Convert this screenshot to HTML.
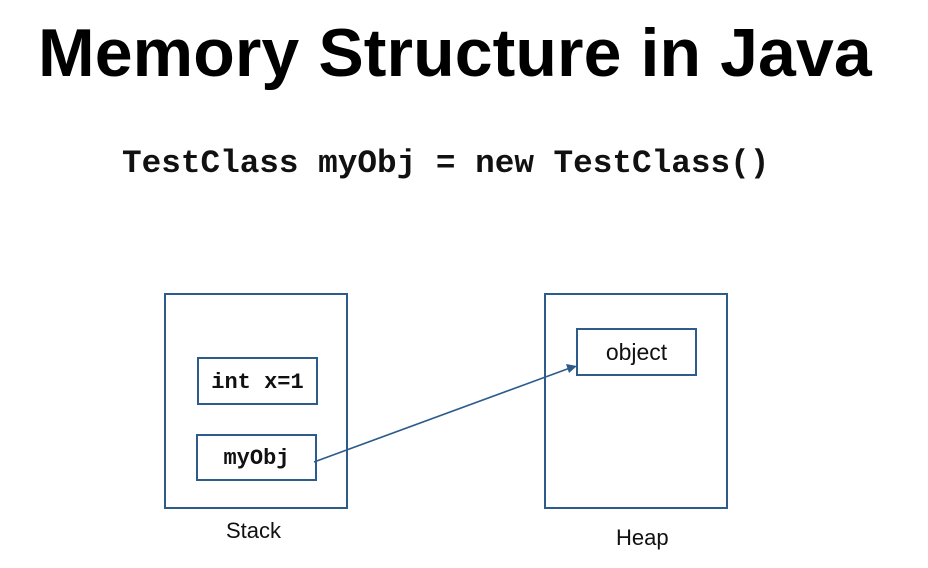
<!DOCTYPE html>
<html><head><style>
body{margin:0;width:928px;height:568px;background:#fff;position:relative;overflow:hidden}
.t{position:absolute;left:38px;top:14px;font:bold 68px "Liberation Sans",sans-serif;color:#000;letter-spacing:0.1px;white-space:nowrap}
.c{position:absolute;left:122px;top:145px;font:bold 32.7px "Liberation Mono",monospace;color:#111;white-space:nowrap}
.b{position:absolute;border:2px solid #2c5b8c;box-sizing:border-box}
.m{font:bold 22px "Liberation Mono",monospace;display:flex;align-items:center;justify-content:center;color:#111;padding-top:2px}
.s{font:23px "Liberation Sans",sans-serif;display:flex;align-items:center;justify-content:center;color:#111}
.l{position:absolute;font:22px "Liberation Sans",sans-serif;color:#111}
</style></head><body>
<div class="t">Memory Structure in Java</div>
<div class="c">TestClass myObj = new TestClass()</div>
<div class="b" style="left:164px;top:293px;width:184px;height:216px"></div>
<div class="b" style="left:544px;top:293px;width:184px;height:216px"></div>
<div class="b m" style="left:197px;top:357px;width:121px;height:48px">int x=1</div>
<div class="b m" style="left:196px;top:434px;width:121px;height:47px">myObj</div>
<div class="b s" style="left:576px;top:328px;width:121px;height:48px">object</div>
<div class="l" style="left:226px;top:518px">Stack</div>
<div class="l" style="left:616px;top:525px">Heap</div>
<svg width="928" height="568" style="position:absolute;left:0;top:0">
<line x1="314" y1="462" x2="570" y2="368" stroke="#2c5b8c" stroke-width="1.6"/>
<polygon points="577,366 566,364 569,373" fill="#2c5b8c"/>
</svg>
</body></html>
